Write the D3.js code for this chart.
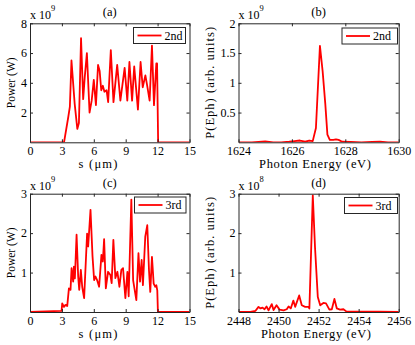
<!DOCTYPE html>
<html>
<head>
<meta charset="utf-8">
<script src="https://cdn.jsdelivr.net/npm/d3@7"></script>
<style>
  body { margin: 0; background: #fff; }
  svg { display: block; font-family: "Liberation Serif", "Times New Roman", serif; }
  svg text { font-family: "Liberation Serif", "Times New Roman", serif; }
</style>
</head>
<body>
<svg id="fig" width="415" height="345"></svg>
<script>
// Power profiles along the bunch (values in units of 1e9 W)
const sSecond = [0, 3.2, 3.6, 3.75, 3.9, 4.2, 4.45, 4.6, 4.8, 5.0, 5.15, 5.35, 5.6, 5.8, 6.0, 6.2, 6.4, 6.55, 6.7, 6.85,
  7.0, 7.2, 7.35, 7.6, 7.85, 8.2, 8.5, 8.9, 9.15, 9.35, 9.6, 9.8, 10.15, 10.4, 10.6, 10.85, 11.0, 11.25, 11.47,
  11.66, 11.88, 11.95, 12.05, 15];
const powerSecond = [0, 0, 1.7, 2.4, 5.5, 2.6, 0.9, 1.3, 7.0, 2.9, 4.4, 6.0, 2.0, 2.8, 4.2, 2.5, 5.2, 4.8, 3.5, 3.8,
  3.4, 3.5, 2.7, 6.2, 2.7, 5.2, 2.8, 5.0, 2.8, 5.4, 2.8, 5.1, 2.2, 5.4, 3.7, 4.5, 3.9, 2.8, 6.5,
  2.5, 5.3, 5.3, 0, 0];

const sThird = [0, 2.97, 3.03, 3.19, 3.34, 3.5, 3.66, 3.81, 3.91, 4.06, 4.13, 4.22, 4.38, 4.53, 4.63, 4.78, 4.91,
  5.09, 5.37, 5.47, 5.69, 5.88, 6.03, 6.16, 6.31, 6.5, 6.72, 6.85, 6.97, 7.13, 7.34, 7.56, 7.68, 7.84, 8.03,
  8.22, 8.41, 8.59, 8.75, 8.97, 9.16, 9.28, 9.53, 9.7, 10.0, 10.2, 10.35, 10.5, 10.62, 10.84, 11.03, 11.19,
  11.31, 11.47, 11.63, 11.78, 11.88, 11.97, 12.03, 15];
const powerThird = [0, 0.03, 0.22, 0.13, 0.18, 0.15, 0.6, 0.56, 1.11, 0.77, 1.15, 0.85, 1.96, 0.9, 0.56, 1.07, 0.64,
  0.35, 1.99, 1.66, 2.59, 1.41, 0.81, 0.9, 0.81, 0.64, 1.45, 1.28, 1.85, 0.6, 1.02, 0.94, 0.73, 1.83, 0.86,
  1.02, 0.64, 1.07, 1.11, 0.35, 1.02, 0.4, 2.85, 0.8, 0.3, 1.49, 0.77, 1.32, 0.68, 1.91, 2.2, 1.06,
  0.51, 1.4, 0.72, 0.64, 0.68, 0.55, 0, 0];

// Spectra (2nd in units of 1e9, 3rd in units of 1e8)
const eSecond = [1624, 1624.5, 1625, 1625.3, 1625.6, 1625.9, 1626.1, 1626.3, 1626.5, 1626.65, 1626.78, 1626.9,
  1627.05, 1627.15, 1627.25, 1627.33, 1627.42, 1627.55, 1627.65, 1627.75, 1627.88, 1628.2, 1628.6, 1629,
  1629.3, 1629.6, 1630];
const specSecond = [0, 0, 0.015, 0, 0, 0.01, 0.02, 0.03, 0.01, 0.03, 0.02, 0.24,
  1.62, 1.2, 0.65, 0.13, 0.04, 0.04, 0.05, 0.04, 0.01, 0.005, 0, 0.005,
  0.01, 0, 0];

const eThird = [2448, 2448.6, 2448.85, 2449.0, 2449.1, 2449.2, 2449.3, 2449.4, 2449.5, 2449.66, 2449.75, 2449.9,
  2450.05, 2450.25, 2450.41, 2450.5, 2450.61, 2450.74, 2450.83, 2451.03, 2451.16, 2451.33, 2451.49, 2451.54,
  2451.71, 2451.82, 2451.96, 2452.08, 2452.24, 2452.37, 2452.54, 2452.66, 2452.79, 2452.91, 2453.07, 2453.24,
  2453.4, 2454, 2455, 2456];
const specThird = [0, 0, 0.03, 0.13, 0.09, 0.11, 0.07, 0.14, 0.04, 0.2, 0.05, 0.17,
  0.06, 0.04, 0.07, 0.14, 0.09, 0.29, 0.13, 0.42, 0.17, 0.13, 0.13, 0.09,
  2.96, 1.65, 0.38, 0.17, 0.23, 0.22, 0.06, 0.07, 0.33, 0.09, 0.06, 0.07,
  0.01, 0.01, 0.01, 0];

const sTicks = [0, 3, 6, 9, 12, 15];
const eTicksSecond = [1624, 1626, 1628, 1630];
const eTicksThird = [2448, 2450, 2452, 2454, 2456];
const powerTicksSecond = [2, 4, 6, 8];
const powerTicksThird = [1, 2, 3];
const specTicksSecond = [0.5, 1, 1.5, 2];
const specTicksThird = [1, 2, 3];

const panels = [
  { id: "a", box: [30, 189.5, 23.3, 142.3], x: sSecond, y: powerSecond, xDomain: [0, 15], yDomain: [0, 8],
    xTicks: sTicks, yTicks: powerTicksSecond, exp: "9", title: "(a)", xLabel: "s (\u03bcm)", yLabel: "Power (W)",
    legend: "2nd", legendBox: [133.5, 27.5, 52], xLabelPos: [98, 39], yLabelPos: [15, null] },
  { id: "b", box: [238.5, 398.7, 23.3, 142.3], x: eSecond, y: specSecond, xDomain: [1624, 1630], yDomain: [0, 2],
    xTicks: eTicksSecond, yTicks: specTicksSecond, exp: "9", title: "(b)", xLabel: "Photon Energy (eV)",
    yLabel: "P(Eph) (arb. units)", legend: "2nd", legendBox: [342, 28, 55.5], xLabelPos: [315, 112], yLabelPos: [214, 112] },
  { id: "c", box: [30, 189.5, 193.7, 312], x: sThird, y: powerThird, xDomain: [0, 15], yDomain: [0, 3],
    xTicks: sTicks, yTicks: powerTicksThird, exp: "9", title: "(c)", xLabel: "s (\u03bcm)", yLabel: "Power (W)",
    legend: "3rd", legendBox: [134.5, 197, 51.5], xLabelPos: [98, 39], yLabelPos: [15, null] },
  { id: "d", box: [238.5, 398.7, 193.7, 312], x: eThird, y: specThird, xDomain: [2448, 2456], yDomain: [0, 3],
    xTicks: eTicksThird, yTicks: specTicksThird, exp: "8", title: "(d)", xLabel: "Photon Energy (eV)",
    yLabel: "P(Eph) (arb. units)", legend: "3rd", legendBox: [344.5, 197.5, 53], xLabelPos: [316, 110], yLabelPos: [214, 112] },
];

const svg = d3.select("#fig");
svg.append("rect").attr("width", 415).attr("height", 345).attr("fill", "#fff");

const AXIS_COLOR = "#262626";
const RED = "#ff0000";

function drawPanel(p) {
  const [x0, x1, y0, y1] = p.box;
  const x = d3.scaleLinear().domain(p.xDomain).range([x0, x1]);
  const y = d3.scaleLinear().domain(p.yDomain).range([y1, y0]);
  const g = svg.append("g").attr("class", `panel-${p.id}`);

  g.append("clipPath").attr("id", `clip-${p.id}`)
    .append("rect").attr("x", x0).attr("y", y0).attr("width", x1 - x0).attr("height", y1 - y0);

  const line = d3.line().x((d) => x(d[0])).y((d) => y(d[1]));
  g.append("path")
    .datum(p.x.map((v, i) => [v, p.y[i]]))
    .attr("clip-path", `url(#clip-${p.id})`)
    .attr("d", line)
    .attr("fill", "none")
    .attr("stroke", RED)
    .attr("stroke-width", 1.8)
    .attr("stroke-linejoin", "round");

  // inward ticks on all four sides, box from the domain lines
  const styleAxis = (sel) => {
    sel.attr("font-family", null).attr("font-size", null);
    sel.selectAll("path.domain").attr("stroke", AXIS_COLOR).attr("stroke-width", 1);
    sel.selectAll(".tick line").attr("stroke", AXIS_COLOR).attr("stroke-width", 1);
    sel.selectAll("text").attr("fill", "#000").style("font-size", "12px");
  };

  g.append("g").attr("transform", `translate(0,${y1})`)
    .call(d3.axisBottom(x).tickValues(p.xTicks).tickSize(-3).tickSizeOuter(0).tickPadding(4).tickFormat(d3.format("d")))
    .call(styleAxis);
  g.append("g").attr("transform", `translate(0,${y0})`)
    .call(d3.axisTop(x).tickValues(p.xTicks).tickSize(-3).tickSizeOuter(0).tickFormat(""))
    .call(styleAxis);
  g.append("g").attr("transform", `translate(${x0},0)`)
    .call(d3.axisLeft(y).tickValues(p.yTicks).tickSize(-3).tickSizeOuter(0).tickPadding(3).tickFormat(d3.format("")))
    .call(styleAxis);
  g.append("g").attr("transform", `translate(${x1},0)`)
    .call(d3.axisRight(y).tickValues(p.yTicks).tickSize(-3).tickSizeOuter(0).tickFormat(""))
    .call(styleAxis);

  // exponent label
  const expText = g.append("text").attr("x", x0).attr("y", y0 - 4).style("font-size", "12px").text("x 10");
  expText.append("tspan").attr("dy", -8).style("font-size", "8.5px").text(p.exp);

  g.append("text")
    .attr("x", (x0 + x1) / 2).attr("y", y0 - 7)
    .attr("text-anchor", "middle").style("font-size", "12.5px")
    .text(p.title);

  g.append("text")
    .attr("x", p.xLabelPos[0]).attr("y", y1 + 26)
    .attr("text-anchor", "middle").style("font-size", "12.5px")
    .attr("textLength", p.xLabelPos[1]).attr("lengthAdjust", "spacing")
    .text(p.xLabel);

  const yl = g.append("text")
    .attr("transform", `translate(${p.yLabelPos[0]},${(y0 + y1) / 2}) rotate(-90)`)
    .attr("text-anchor", "middle").style("font-size", p.yLabelPos[1] ? "12.5px" : "11.5px")
    .text(p.yLabel);
  if (p.yLabelPos[1]) yl.attr("textLength", p.yLabelPos[1]).attr("lengthAdjust", "spacing");

  // legend
  const [lx, ly, lw] = p.legendBox;
  const lh = 16;
  const leg = g.append("g").attr("class", "legend");
  leg.append("rect").attr("x", lx).attr("y", ly).attr("width", lw).attr("height", lh)
    .attr("fill", "#fff").attr("stroke", AXIS_COLOR).attr("stroke-width", 1);
  leg.append("line").attr("x1", lx + 4).attr("x2", lx + 28).attr("y1", ly + lh / 2).attr("y2", ly + lh / 2)
    .attr("stroke", RED).attr("stroke-width", 1.8);
  leg.append("text").attr("x", lx + 31).attr("y", ly + lh / 2 + 4).style("font-size", "12px").text(p.legend);
}

panels.forEach(drawPanel);
</script>
</body>
</html>
